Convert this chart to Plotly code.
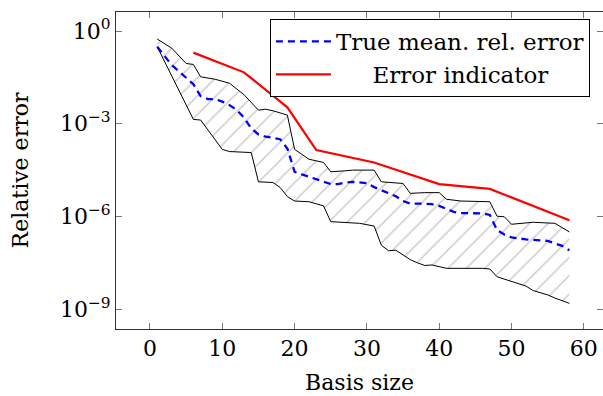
import plotly.graph_objects as go

# Upper bound of the error band
upper_x = [1, 3, 5, 6, 7, 9, 11, 12, 13, 15, 16, 17, 18, 19, 20, 21, 22, 24, 25, 27, 28, 31,
           32, 35, 36, 38, 39, 40, 41, 43, 47, 48, 49, 50, 53, 56, 58]
upper_y = [0.55, 0.28, 0.089, 0.083, 0.033, 0.0275, 0.0204, 0.0132, 0.0087, 0.00275, 0.00295,
           0.00263, 0.00219, 0.00191, 1.48e-4, 1.0e-4, 7.1e-5, 5.6e-5, 2.8e-5, 3.0e-5, 3.16e-5,
           3.16e-5, 1.32e-5, 1.17e-5, 5.6e-6, 5.9e-6, 6.0e-6, 5.9e-6, 3.6e-6, 3.16e-6, 3.0e-6,
           1.02e-6, 9.8e-7, 5.6e-7, 6.5e-7, 6.0e-7, 3.16e-7]

# Lower bound of the error band
lower_x = [1, 6, 7, 8, 10, 11, 14, 15, 17, 18, 19, 20, 22, 24, 25, 29, 31, 32, 33, 34, 35, 36,
           37, 38, 39, 41, 46, 47, 48, 50, 52, 53, 55, 56, 58]
lower_y = [0.31, 1.38e-3, 1.32e-3, 6.3e-4, 1.48e-4, 1.26e-4, 1.17e-4, 1.32e-5, 1.26e-5, 8.7e-6,
           4.4e-6, 3.16e-6, 3.0e-6, 2.2e-6, 6.8e-7, 6.0e-7, 4.9e-7, 1.17e-7, 7.8e-8, 8.1e-8,
           5.6e-8, 4.0e-8, 3.16e-8, 2.6e-8, 2.7e-8, 2.1e-8, 2.1e-8, 2.0e-8, 1.12e-8, 7.8e-9,
           5.6e-9, 4.0e-9, 2.9e-9, 2.3e-9, 1.55e-9]

# True mean relative error
mean_x = [1, 3, 4, 6, 7, 8, 9, 10, 11, 12, 13, 14, 15, 16, 17, 18, 19, 20, 21, 23, 25, 26, 27,
          28, 30, 31, 32, 33, 34, 35, 36, 38, 39, 40, 41, 42, 43, 46, 47, 48, 49, 50, 52, 55,
          57, 58]
mean_y = [0.31, 0.079, 0.05, 0.019, 7.9e-3, 6.3e-3, 6.3e-3, 5.2e-3, 4.0e-3, 2.8e-3, 1.58e-3,
          7.1e-4, 4.5e-4, 3.8e-4, 3.5e-4, 3.16e-4, 1.58e-4, 2.8e-5, 2.3e-5, 1.58e-5, 1.12e-5,
          1.12e-5, 1.26e-5, 1.32e-5, 1.2e-5, 8.9e-6, 7.1e-6, 5.6e-6, 4.5e-6, 3.16e-6, 2.6e-6,
          2.6e-6, 2.5e-6, 2.2e-6, 1.74e-6, 1.41e-6, 1.29e-6, 1.26e-6, 1.12e-6, 3.6e-7, 2.6e-7,
          2.1e-7, 1.82e-7, 1.62e-7, 1.12e-7, 8.1e-8]

# Error indicator
ind_x = [6, 13, 19, 23, 31, 40, 47, 58]
ind_y = [0.2, 0.046, 3.4e-3, 1.41e-4, 5.6e-5, 1.12e-5, 7.8e-6, 7.6e-7]

x_ticks = [0, 10, 20, 30, 40, 50, 60]
y_ticks = [1, 1e-3, 1e-6, 1e-9]
y_ticktext = ["10<sup>0</sup>", "10<sup>−3</sup>", "10<sup>−6</sup>", "10<sup>−9</sup>"]

FONT = "DejaVu Serif"
FS = 22

fig = go.Figure()

# hatched band
fig.add_trace(go.Scatter(
    x=upper_x + lower_x[::-1], y=upper_y + lower_y[::-1],
    mode="lines", fill="toself", line=dict(width=0, color="rgba(0,0,0,0)"),
    fillcolor="white",
    fillpattern=dict(shape="/", fgcolor="#a0a0a0", bgcolor="white", size=13, solidity=0.12),
    showlegend=False, hoverinfo="skip"))
fig.add_trace(go.Scatter(x=upper_x, y=upper_y, mode="lines",
                         line=dict(color="black", width=1), showlegend=False))
fig.add_trace(go.Scatter(x=lower_x, y=lower_y, mode="lines",
                         line=dict(color="black", width=1), showlegend=False))
fig.add_trace(go.Scatter(x=mean_x, y=mean_y, mode="lines", name="True mean. rel. error",
                         line=dict(color="#0000ff", width=2.3, dash="7px,5px")))
fig.add_trace(go.Scatter(x=ind_x, y=ind_y, mode="lines",
                         name="\u00a0\u00a0\u00a0\u00a0\u00a0Error indicator",
                         line=dict(color="#ff0000", width=2.2)))

axis_common = dict(showline=True, linecolor="#333", linewidth=1, mirror="ticks",
                   ticks="inside", ticklen=6, tickcolor="#777", tickwidth=1,
                   showgrid=False, zeroline=False, automargin=False,
                   tickfont=dict(family=FONT, size=FS, color="black"))

fig.update_xaxes(range=[-4.7, 62.65], tickvals=x_ticks,
                 title=dict(text="Basis size", font=dict(family=FONT, size=FS, color="black"),
                            standoff=14),
                 **axis_common)
fig.update_yaxes(type="log", range=[-9.64, 0.615], tickvals=y_ticks, ticktext=y_ticktext,
                 title=dict(text="Relative error", font=dict(family=FONT, size=FS, color="black"),
                            standoff=25),
                 **axis_common)

fig.update_layout(
    width=603, height=396,
    margin=dict(l=116, r=0, t=12, b=67),
    paper_bgcolor="white", plot_bgcolor="white",
    font=dict(family=FONT, size=FS, color="black"),
    legend=dict(x=0.316, y=0.978, xanchor="left", yanchor="top",
                bordercolor="black", borderwidth=1, bgcolor="white",
                itemwidth=55,
                font=dict(family=FONT, size=23), tracegroupgap=0),
)

fig.write_html("out.html", config={"displayModeBar": False},
               post_script="document.body.style.margin='0px';")
